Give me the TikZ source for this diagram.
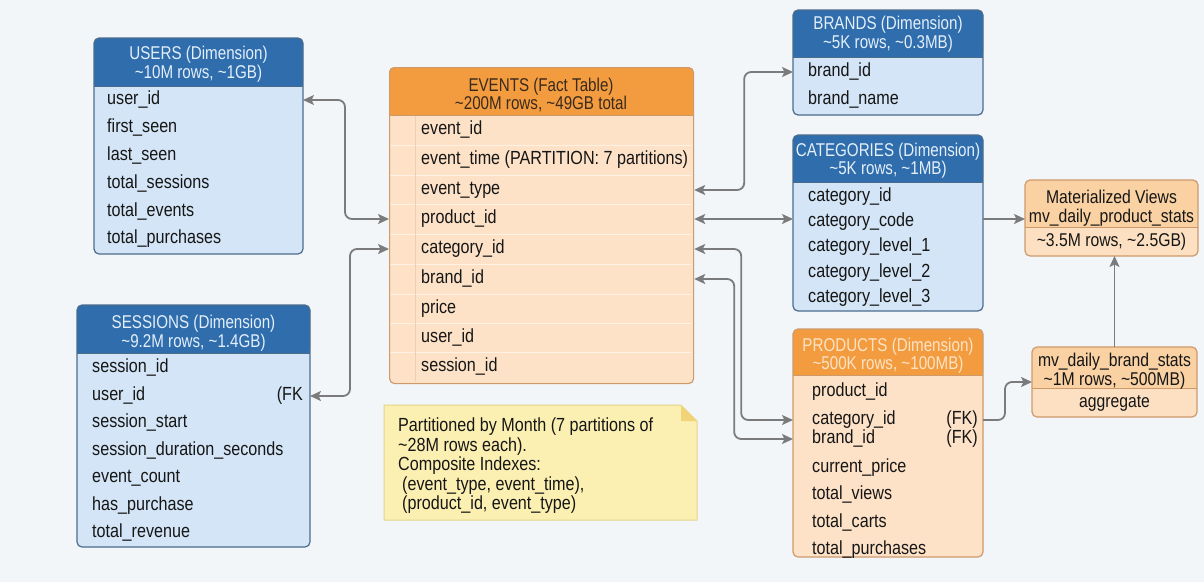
\documentclass[tikz,border=0pt]{standalone}
\usepackage{fontspec}
\setmainfont{Liberation Sans}[FakeStretch=0.85]
\newfontfamily\hdrfont{Liberation Sans}[FakeStretch=0.82]
\usetikzlibrary{arrows.meta}
\definecolor{bg}{HTML}{F2F6F9}
\definecolor{bluehdr}{HTML}{2F6DAD}
\definecolor{bluebody}{HTML}{D3E5F6}
\definecolor{blueline}{HTML}{4C6C8C}
\definecolor{bluehtext}{HTML}{E4EFFA}
\definecolor{orghdr}{HTML}{F39C3F}
\definecolor{orgbody}{HTML}{FDE2C8}
\definecolor{orgline}{HTML}{CE9A6C}
\definecolor{orgsep}{HTML}{FFF1E3}
\definecolor{orgcol}{HTML}{EFCFB0}
\definecolor{evhtext}{HTML}{3A2A1C}
\definecolor{prodhtext}{HTML}{FDE3C6}
\definecolor{mvhdr}{HTML}{F9D1A2}
\definecolor{mvbody}{HTML}{FCE0C1}
\definecolor{notefill}{HTML}{FBF0B2}
\definecolor{noteline}{HTML}{E4D48C}
\definecolor{notefold}{HTML}{F1D477}
\definecolor{conn}{HTML}{7B7B7B}
\definecolor{txt}{HTML}{161616}
\newcommand{\dbbox}[9]{%
  \fill[#8, rounded corners=5pt] (#2,#3) rectangle (#4,#5);
  \fill[#7, rounded corners=5pt] (#2,#3) rectangle (#4,#6);
  \fill[#7] (#2,#6-7) rectangle (#4,#6);
  \draw[#9, line width=1pt] (#2,#6) -- (#4,#6);
  \node[draw=#9, line width=1.2pt, rounded corners=5pt, inner sep=0pt, outer sep=0pt,
        anchor=north west, minimum width={(#4-#2)*1pt}, minimum height={(#5-#3)*1pt}] (#1) at (#2,#3) {};
}
\begin{document}
\begin{tikzpicture}[x=1pt,y=-1pt,
  row/.style={anchor=west, inner sep=0pt, text=txt, font=\fontsize{19}{21}\selectfont, text height=13.5pt, text depth=4pt},
  hdr/.style={align=center, inner sep=0pt, font=\hdrfont\fontsize{18.5}{18.5}\selectfont},
  mvtext/.style={align=center, inner sep=0pt, text=txt, font=\fontsize{18.5}{19}\selectfont},
  link/.style={draw=conn, line width=1.8pt, rounded corners=7pt, -{Stealth[length=11pt,width=10pt,inset=2.5pt]}},
  both/.style={link, {Stealth[length=11pt,width=10pt,inset=2.5pt]}-{Stealth[length=11pt,width=10pt,inset=2.5pt]}}]
\useasboundingbox (0,0) rectangle (1204,582);
\fill[bg] (0,0) rectangle (1204,582);

% USERS
\dbbox{users}{94}{38}{303}{254}{86}{bluehdr}{bluebody}{blueline}
\node[hdr, text=bluehtext] (usersH) at (198.5,64) {USERS (Dimension)\\\textasciitilde10M rows, \textasciitilde1GB)};
\node[row] (u1) at (107,100) {user\_id};
\node[row] (u2) at (107,128) {first\_seen};
\node[row] (u3) at (107,156) {last\_seen};
\node[row] (u4) at (107,184) {total\_sessions};
\node[row] (u5) at (107,212) {total\_events};
\node[row] (u6) at (107,239) {total\_purchases};

% SESSIONS
\dbbox{sessions}{77}{305}{310}{547}{353}{bluehdr}{bluebody}{blueline}
\node[hdr, text=bluehtext] (sessionsH) at (193.5,333) {SESSIONS (Dimension)\\\textasciitilde9.2M rows, \textasciitilde1.4GB)};
\node[row] (s1) at (92,368) {session\_id};
\node[row] (s2) at (92,396) {user\_id};
\node[row, anchor=east] (sfk) at (303,396) {(FK};
\node[row] (s3) at (92,423) {session\_start};
\node[row] (s4) at (92,451) {session\_duration\_seconds};
\node[row] (s5) at (92,478) {event\_count};
\node[row] (s6) at (92,506) {has\_purchase};
\node[row] (s7) at (92,533) {total\_revenue};

% EVENTS
\fill[orgbody, rounded corners=5pt] (389,67) rectangle (693,383);
\foreach \yy in {145,175,204.5,234,264,294,323.5,352.5}
  \draw[orgsep, line width=1pt] (390,\yy) -- (692,\yy);
\draw[orgcol, line width=1pt] (415,115) -- (415,382);
\fill[orghdr, rounded corners=5pt] (389,67) rectangle (693,115);
\fill[orghdr] (389,108) rectangle (693,115);
\draw[orgline, line width=1pt] (389,115) -- (693,115);
\node[draw=orgline, line width=1.2pt, rounded corners=5pt, inner sep=0pt, anchor=north west,
      minimum width=304pt, minimum height=316pt] (events) at (389,67) {};
\node[hdr, text=evhtext] (eventsH) at (541,95) {EVENTS (Fact Table)\\\textasciitilde200M rows, \textasciitilde49GB total};
\node[row] (e1) at (421,130) {event\_id};
\node[row] (e2) at (421,160) {event\_time (PARTITION: 7 partitions)};
\node[row] (e3) at (421,190) {event\_type};
\node[row] (e4) at (421,219) {product\_id};
\node[row] (e5) at (421,249) {category\_id};
\node[row] (e6) at (421,279) {brand\_id};
\node[row] (e7) at (421,309) {price};
\node[row] (e8) at (421,338) {user\_id};
\node[row] (e9) at (421,367) {session\_id};

% BRANDS
\dbbox{brands}{793}{10}{983}{115}{57}{bluehdr}{bluebody}{blueline}
\node[hdr, text=bluehtext] (brandsH) at (888,34) {BRANDS (Dimension)\\\textasciitilde5K rows, \textasciitilde0.3MB)};
\node[row] (b1) at (808,72) {brand\_id};
\node[row] (b2) at (808,100) {brand\_name};

% CATEGORIES
\dbbox{categories}{793}{135}{983}{311}{182}{bluehdr}{bluebody}{blueline}
\node[hdr, text=bluehtext] (categoriesH) at (888,160.5) {CATEGORIES (Dimension)\\\textasciitilde5K rows, \textasciitilde1MB)};
\node[row] (c1) at (808,197) {category\_id};
\node[row] (c2) at (808,222) {category\_code};
\node[row] (c3) at (808,247) {category\_level\_1};
\node[row] (c4) at (808,273) {category\_level\_2};
\node[row] (c5) at (808,298) {category\_level\_3};

% PRODUCTS
\dbbox{products}{793}{329}{983}{557}{375}{orghdr}{orgbody}{orgline}
\node[hdr, text=prodhtext] (productsH) at (888,355.5) {PRODUCTS (Dimension)\\\textasciitilde500K rows, \textasciitilde100MB)};
\node[row] (p1) at (812,392) {product\_id};
\node[row] (p2) at (812,420) {category\_id};
\node[row, anchor=east] (pfk1) at (978,420) {(FK)};
\node[row] (p3) at (812,439) {brand\_id};
\node[row, anchor=east] (pfk2) at (978,439) {(FK)};
\node[row] (p4) at (812,468) {current\_price};
\node[row] (p5) at (812,495) {total\_views};
\node[row] (p6) at (812,523) {total\_carts};
\node[row] (p7) at (812,550) {total\_purchases};

% MATERIALIZED VIEWS
\dbbox{mvp}{1025}{180}{1198}{256}{227}{mvhdr}{mvbody}{orgline}
\node[mvtext] (mvpH) at (1111.5,208) {Materialized Views\\mv\_daily\_product\_stats};
\node[mvtext] (mvpR) at (1111.5,242) {\textasciitilde3.5M rows, \textasciitilde2.5GB)};

\dbbox{mvb}{1032}{347}{1197}{417}{388}{mvhdr}{mvbody}{orgline}
\node[mvtext] (mvbH) at (1114.5,371) {mv\_daily\_brand\_stats\\\textasciitilde1M rows, \textasciitilde500MB)};
\node[mvtext] (mvbR) at (1114.5,403) {aggregate};

% NOTE
\fill[notefill] (384,405) -- (681,405) -- (697,421) -- (697,520) -- (384,520) -- cycle;
\draw[noteline, line width=1pt] (384,405) -- (681,405) -- (697,421) -- (697,520) -- (384,520) -- cycle;
\fill[notefold] (681,405) -- (681,421) -- (697,421) -- cycle;
\node[anchor=north west, align=left, inner sep=0pt, text=txt, font=\fontsize{19}{19.5}\selectfont] (note) at (398,418)
  {Partitioned by Month (7 partitions of\\\textasciitilde28M rows each).\\Composite Indexes:\\\hspace{4pt}(event\_type, event\_time),\\\hspace{4pt}(product\_id, event\_type)};

% CONNECTORS
\draw[both] (users.east |- u1) -- ++(42,0) |- (events.west |- e4);
\draw[both] (events.west |- e5) -- ++(-39,0) |- (sessions.east |- s2);
\draw[both] (events.east |- e3) -- ++(50,0) |- (brands.west |- b1);
\draw[both] (events.east |- e4) -- (categories.west |- e4);
\draw[both] (events.east |- e5) -- ++(47,0) |- (products.west |- p2);
\draw[both] (events.east |- e6) -- ++(40,0) |- (products.west |- p3);
\draw[link] (categories.east |- e4) -- (mvp.west |- e4);
\draw[link] (products.east |- p2) -- ++(22,0) |- (mvb.west);
\draw[link] (mvb.north) -- (mvb.north |- mvp.south);
\end{tikzpicture}
\end{document}
